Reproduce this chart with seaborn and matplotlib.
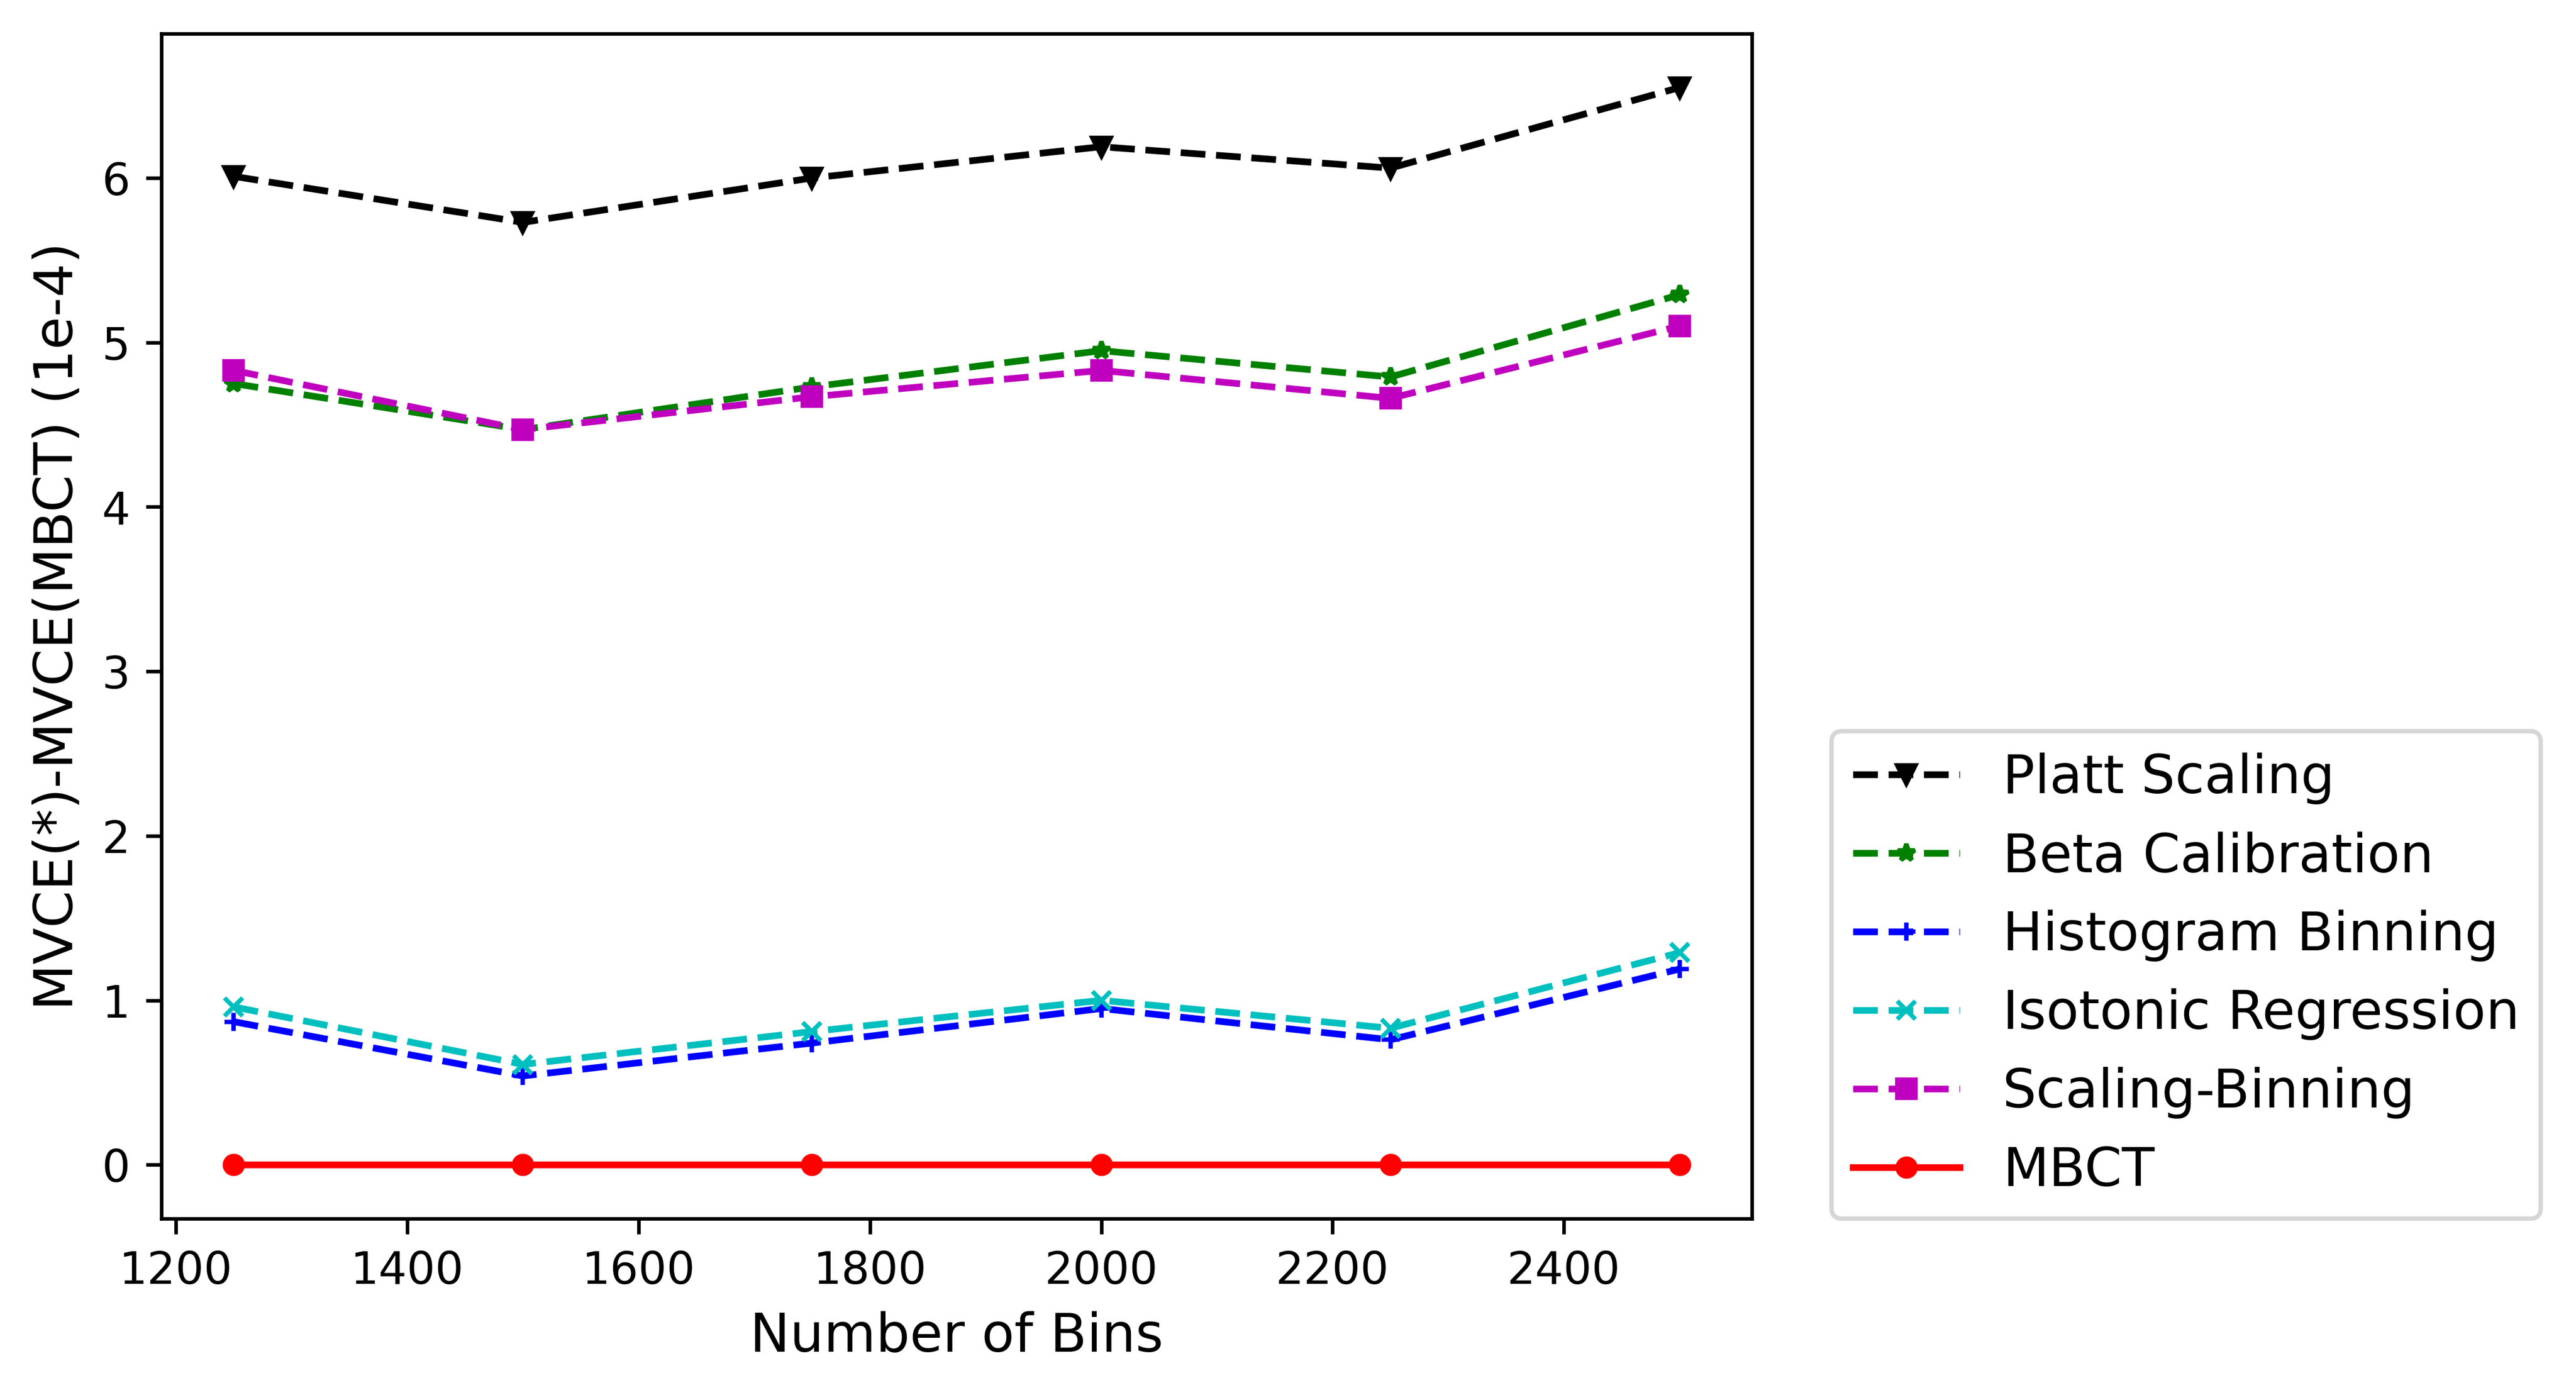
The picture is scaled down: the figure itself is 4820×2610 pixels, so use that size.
import matplotlib
matplotlib.use("Agg")
import matplotlib.pyplot as plt
import seaborn as sns

bins = [1250, 1500, 1750, 2000, 2250, 2500]
platt = [6.01, 5.73, 6.00, 6.19, 6.06, 6.55]
beta = [4.75, 4.47, 4.73, 4.95, 4.79, 5.29]
hist_bin = [0.87, 0.54, 0.74, 0.95, 0.76, 1.19]
isotonic = [0.96, 0.61, 0.81, 1.00, 0.83, 1.29]
scal_bin = [4.83, 4.47, 4.67, 4.83, 4.66, 5.10]
mbct = [0, 0, 0, 0, 0, 0]

series = [
    ("Platt Scaling", platt, "k", "v", "--"),
    ("Beta Calibration", beta, "g", "*", "--"),
    ("Histogram Binning", hist_bin, "b", "+", "--"),
    ("Isotonic Regression", isotonic, "c", "x", "--"),
    ("Scaling-Binning", scal_bin, "m", "s", "--"),
    ("MBCT", mbct, "r", "o", "-"),
]

plt.rcParams['font.family'] = ['DejaVu Sans']
W, H, DPI = 4820, 2610, 600
fig = plt.figure(figsize=(W / DPI, H / DPI), dpi=DPI)
ax = fig.add_axes([302 / W, 1 - 2280 / H, (3278 - 302) / W, (2280 - 63) / H])

for label, vals, col, mk, ls in series:
    sns.lineplot(x=bins, y=vals, ax=ax, color=col, marker=mk, linestyle=ls,
                 linewidth=1.5, markersize=4, markeredgecolor=col,
                 markeredgewidth=1, label=label)

ax.set_xlabel("Number of Bins", fontsize=12)
ax.set_ylabel("MVCE(*)-MVCE(MBCT) (1e-4)", fontsize=12)
ax.tick_params(labelsize=10)
ax.legend(loc="lower left", bbox_to_anchor=(1.05, 0), borderaxespad=0,
          fontsize=12)

fig.savefig("out.png", dpi=DPI)
